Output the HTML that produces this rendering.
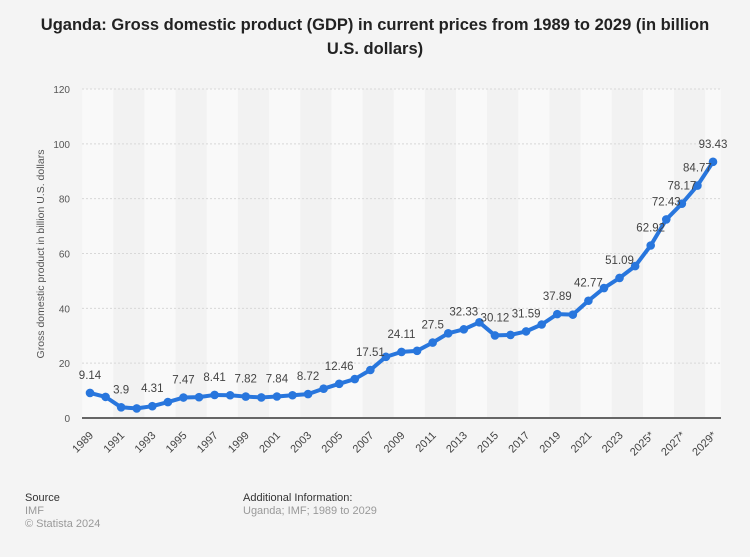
<!DOCTYPE html>
<html><head><meta charset="utf-8"><style>
body{margin:0;background:#f4f4f4;width:750px;height:557px;overflow:hidden;font-family:"Liberation Sans",sans-serif}
#title{position:absolute;left:0;top:13px;width:750px;text-align:center;font-weight:bold;font-size:16.5px;line-height:24px;color:#222}
.ft{position:absolute;font-size:11px;line-height:13px}
</style></head><body>
<div id="title">Uganda: Gross domestic product (GDP) in current prices from 1989 to 2029 (in billion<br>U.S. dollars)</div>
<svg id="chart" width="750" height="557" style="position:absolute;left:0;top:0"></svg>
<div class="ft" style="left:25px;top:492px;color:#333">Source</div>
<div class="ft" style="left:25px;top:505px;color:#999">IMF</div>
<div class="ft" style="left:25px;top:518px;color:#999">© Statista 2024</div>
<div class="ft" style="left:243px;top:492px;color:#333">Additional Information:</div>
<div class="ft" style="left:243px;top:505px;color:#999">Uganda; IMF; 1989 to 2029</div>
<script>
const years=[];for(let y=1989;y<=2029;y++)years.push(y);
const yearLabels=["1989","1991","1993","1995","1997","1999","2001","2003","2005","2007","2009","2011","2013","2015","2017","2019","2021","2023","2025*","2027*","2029*"];
const gdp=[9.14,7.7,3.9,3.5,4.31,5.8,7.47,7.6,8.41,8.3,7.82,7.5,7.84,8.3,8.72,10.7,12.46,14.2,17.51,22.3,24.11,24.5,27.5,30.9,32.33,34.9,30.12,30.3,31.59,34.1,37.89,37.7,42.77,47.4,51.09,55.4,62.92,72.43,78.17,84.77,93.43];
const labeledYears=[1989,1991,1993,1995,1997,1999,2001,2003,2005,2007,2009,2011,2013,2015,2017,2019,2021,2023,2025,2026,2027,2028,2029];
const yTicks=[0,20,40,60,80,100,120];
const NS="http://www.w3.org/2000/svg",svg=document.getElementById('chart');
const X0=90,X1=713,Y0=418,YMAX=120,YTOP=89;
const xs=i=>X0+(X1-X0)*i/(years.length-1);
const ys=v=>Y0-(Y0-YTOP)*v/YMAX;
const step=(X1-X0)/(years.length-1);
function mk(t,a){const e=document.createElementNS(NS,t);for(const k in a)e.setAttribute(k,a[k]);svg.appendChild(e);return e;}
for(let i=0;i<years.length;i+=2){
 const r=mk('rect',{x:xs(i)-step/2,y:YTOP,width:Math.min(step*2,X1+step/2-(xs(i)-step/2)),height:Y0-YTOP,fill:(i/2)%2?'#f2f2f2':'#f9f9f9'});
 
 
}
yTicks.forEach(v=>{
 const l=mk('line',{x1:X0-8,x2:X1+8,y1:ys(v),y2:ys(v),stroke:v?'#d8d8d8':'#666','stroke-width':v?1:2,'stroke-dasharray':v?'2,2':''});
 
 
 const t=mk('text',{x:70,y:ys(v)+4,'text-anchor':'end','font-size':10,fill:'#555'});t.textContent=v;
 
 
});
const yt=mk('text',{x:44,y:254,transform:'rotate(-90 44 254)','text-anchor':'middle','font-size':10.5,fill:'#555'});
yt.textContent='Gross domestic product in billion U.S. dollars';


yearLabels.forEach((s,k)=>{
 const i=k*2,x=xs(i)+4,y=436;
 const t=mk('text',{x:x,y:y,transform:`rotate(-45 ${x} ${y})`,'text-anchor':'end','font-size':11,fill:'#444'});t.textContent=s;
 
 
});
const p=mk('polyline',{points:gdp.map((v,i)=>xs(i)+','+ys(v)).join(' '),fill:'none',stroke:'#2876dd','stroke-width':4,'stroke-linejoin':'round'});


gdp.forEach((v,i)=>{
 const c=mk('circle',{cx:xs(i),cy:ys(v),r:4.3,fill:'#2876dd'});
 
 
});
labeledYears.forEach(yr=>{
 const i=yr-1989;
 const t=mk('text',{x:xs(i),y:ys(gdp[i])-14,'text-anchor':'middle','font-size':11.5,fill:'#444'});
 t.textContent=gdp[i];
 
 
});
</script>
</body></html>
